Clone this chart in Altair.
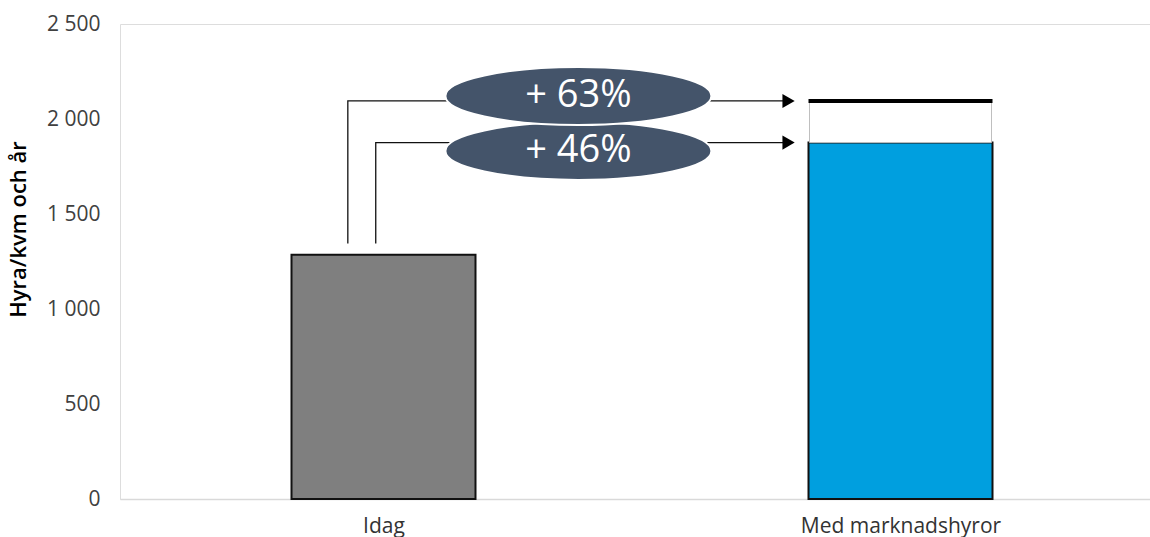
import altair as alt
import pandas as pd

# Rent per square metre and year
categories = ["Idag", "Med marknadshyror"]
cat_pos = [0.5, 1.5]
rent_today = 1285
rent_market = 1876
rent_potential = 2095

bar_colors = ["#7f7f7f", "#009fdf"]
bar_px = 184
FONT = "Open Sans"

pct_market = round((rent_market / rent_today - 1) * 100)
pct_potential = round((rent_potential / rent_today - 1) * 100)

bars = pd.DataFrame({
    "cat": categories,
    "x": cat_pos,
    "y0": [0, 0],
    "y1": [rent_today, rent_market],
    "color": bar_colors,
})
gap = pd.DataFrame({"x": [cat_pos[1]], "y0": [rent_market], "y1": [rent_potential]})

# Connector paths from today's bar up and across to the market bar
conn_start_y = 1345
conn_x_left = [0.431, 0.485]
conn_x_end = 1.2835
conn = pd.DataFrame({
    "series": ["pot"] * 3 + ["mkt"] * 3,
    "order": [0, 1, 2] * 2,
    "x": [conn_x_left[0], conn_x_left[0], conn_x_end, conn_x_left[1], conn_x_left[1], conn_x_end],
    "y": [conn_start_y, rent_potential, rent_potential, conn_start_y, rent_market, rent_market],
})
heads = pd.DataFrame({"x": [conn_x_end, conn_x_end], "y": [rent_potential, rent_market]})

bubbles = pd.DataFrame({
    "x": [0.877, 0.877],
    "y": [2121, 1832],
    "label": [f"+ {pct_potential}%", f"+ {pct_market}%"],
    "z": [1, 0],
})

x_scale = alt.Scale(domain=[0, 2], range=[0, 1044])
y_scale = alt.Scale(domain=[0, 2500], nice=False)

x_axis = alt.Axis(
    values=cat_pos,
    labelExpr="datum.value < 1 ? 'Idag' : 'Med marknadshyror'",
    title=None, ticks=False, grid=False,
    domainColor="#d9d9d9", domainWidth=1.5,
    labelFont=FONT, labelFontSize=21, labelColor="#333333", labelPadding=16,
    labelLimit=0,
)
y_axis = alt.Axis(
    values=[0, 500, 1000, 1500, 2000, 2500],
    labelExpr="replace(format(datum.value, ','), ',', ' ')",
    title="Hyra/kvm och år", titleFont=FONT, titleFontSize=22, titleFontWeight=600,
    titleColor="#000000", titleAngle=-90, titleX=-102, titleY=205, titleAlign="center",
    titleBaseline="middle", titleLimit=0,
    ticks=False, grid=False, domain=False,
    labelFont=FONT, labelFontSize=21, labelColor="#404040", labelPadding=20,
)

base_bars = alt.Chart(bars).mark_bar(size=bar_px, stroke="#111111", strokeWidth=2).encode(
    x=alt.X("x:Q", scale=x_scale, axis=x_axis),
    y=alt.Y("y0:Q", scale=y_scale, axis=y_axis),
    y2="y1:Q",
    color=alt.Color("color:N", scale=None),
)

gap_box = alt.Chart(gap).mark_bar(size=bar_px - 2, fill="white", stroke="#bfbfbf", strokeWidth=1).encode(
    x=alt.X("x:Q", scale=x_scale),
    y=alt.Y("y0:Q", scale=y_scale),
    y2="y1:Q",
)

cap = alt.Chart(gap).mark_tick(orient="horizontal", size=bar_px, thickness=4, color="#000000", opacity=1).encode(
    x=alt.X("x:Q", scale=x_scale),
    y=alt.Y("y1:Q", scale=y_scale),
)

lines = alt.Chart(conn).mark_line(color="#111111", strokeWidth=1.3).encode(
    x=alt.X("x:Q", scale=x_scale),
    y=alt.Y("y:Q", scale=y_scale),
    detail="series:N",
    order="order:Q",
)

arrow = alt.Chart(heads).mark_point(shape="triangle-right", size=200, filled=True, color="#000000", opacity=1).encode(
    x=alt.X("x:Q", scale=x_scale),
    y=alt.Y("y:Q", scale=y_scale),
)

ellipse_path = "M -1 0 A 1 0.218 0 1 0 1 0 A 1 0.218 0 1 0 -1 0 Z"
ellipses = alt.Chart(bubbles).mark_point(
    shape=ellipse_path, size=266 * 266, filled=True, fill="#44546a",
    stroke="white", strokeWidth=2, opacity=1,
).encode(
    x=alt.X("x:Q", scale=x_scale),
    y=alt.Y("y:Q", scale=y_scale),
)
ell_low = ellipses.transform_filter("datum.z == 0")
ell_high = ellipses.transform_filter("datum.z == 1")

texts = alt.Chart(bubbles).mark_text(font=FONT, fontSize=38, color="white", baseline="middle", align="center").encode(
    x=alt.X("x:Q", scale=x_scale),
    y=alt.Y("y:Q", scale=y_scale),
    text="label:N",
)

chart = alt.layer(base_bars, gap_box, cap, lines, arrow, ell_low, ell_high, texts).properties(
    width=1030, height=475,
    padding={"left": 120, "top": 24, "right": 0, "bottom": 38},
    autosize=alt.AutoSizeParams(type="none"),
).configure_view(stroke=None).configure(background="white")

chart.save("out.html", embed_options={"renderer": "svg", "actions": False})
